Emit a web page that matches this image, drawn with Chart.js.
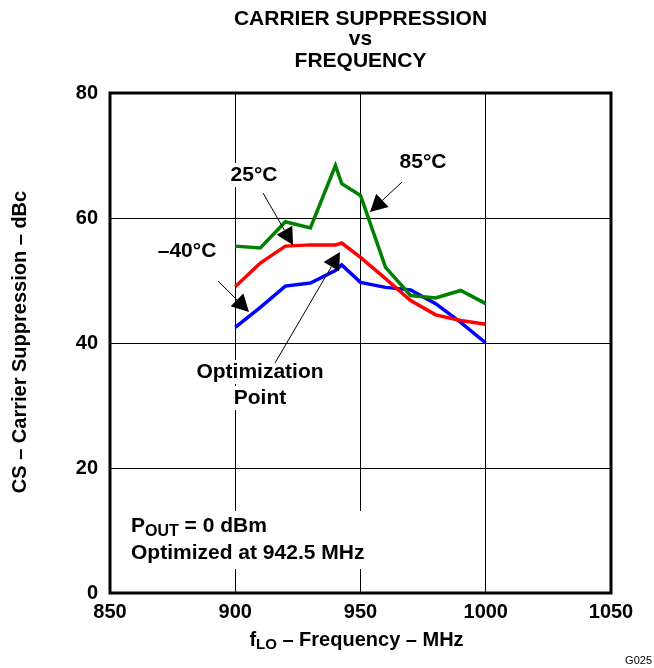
<!DOCTYPE html>
<html>
<head>
<meta charset="utf-8">
<script src="https://cdn.jsdelivr.net/npm/chart.js@4.4.1/dist/chart.umd.min.js"></script>
<style>
  html, body { margin: 0; padding: 0; background: #fff; }
  canvas { display: block; }
</style>
</head>
<body>
<canvas id="cs" width="654" height="668"></canvas>
<script>
// frequency points (MHz)
const freqs = [900, 910, 920, 930, 940, 942.5, 950, 960, 970, 980, 990, 1000];
// carrier suppression (dBc)
const cs85 = [55.5, 55.2, 59.4, 58.4, 68.4, 65.5, 63.6, 52.1, 47.6, 47.2, 48.4, 46.3];
const cs25 = [49.0, 52.8, 55.5, 55.7, 55.7, 56.0, 53.7, 50.3, 46.8, 44.5, 43.6, 43.0];
const csM40 = [42.5, 45.7, 49.1, 49.6, 51.6, 52.5, 49.7, 48.9, 48.5, 46.3, 43.3, 40.0];
const xTicks = [850, 900, 950, 1000, 1050];
const yTicks = [0, 20, 40, 60, 80];

const FONT = '"Liberation Sans", Arial, sans-serif';
const LBL = "bold 21px " + FONT;

const toPoints = (vals) => vals.map((v, i) => ({ x: freqs[i], y: v }));

function arrow(ctx, x1, y1, x2, y2) {
  const ang = Math.atan2(y2 - y1, x2 - x1);
  const len = 17, half = 9;
  const bx = x2 - len * Math.cos(ang), by = y2 - len * Math.sin(ang);
  ctx.beginPath();
  ctx.moveTo(x1, y1);
  ctx.lineTo(bx, by);
  ctx.lineWidth = 1;
  ctx.strokeStyle = "#000";
  ctx.stroke();
  ctx.beginPath();
  ctx.moveTo(x2, y2);
  ctx.lineTo(bx + half * Math.sin(ang), by - half * Math.cos(ang));
  ctx.lineTo(bx - half * Math.sin(ang), by + half * Math.cos(ang));
  ctx.closePath();
  ctx.fillStyle = "#000";
  ctx.fill();
}

function label(ctx, text, x, y) {
  ctx.font = LBL;
  ctx.textAlign = "center";
  ctx.textBaseline = "middle";
  const w = ctx.measureText(text).width;
  ctx.fillStyle = "#fff";
  ctx.fillRect(x - w / 2 - 3, y - 12, w + 6, 24);
  ctx.fillStyle = "#000";
  ctx.fillText(text, x, y);
}

const decorations = {
  id: "decorations",
  beforeDatasetsDraw(chart) {
    const ctx = chart.ctx;
    ctx.save();
    // labels sit on white boxes that hide the grid
    label(ctx, "25°C", 254, 175);
    label(ctx, "85°C", 423, 162);
    label(ctx, "–40°C", 187, 251);
    label(ctx, "Optimization", 260, 372);
    label(ctx, "Point", 260, 398);
    ctx.font = LBL;
    ctx.textAlign = "left";
    ctx.textBaseline = "middle";
    ctx.fillStyle = "#fff";
    ctx.fillRect(128, 511, 240, 58);
    ctx.fillStyle = "#000";
    ctx.fillText("P", 131, 526);
    let px = 131 + ctx.measureText("P").width;
    ctx.font = "bold 16px " + FONT;
    ctx.fillText("OUT", px, 532);
    px += ctx.measureText("OUT").width;
    ctx.font = LBL;
    ctx.fillText(" = 0 dBm", px, 526);
    ctx.fillText("Optimized at 942.5 MHz", 131, 553);
    ctx.restore();
  },
  afterDraw(chart) {
    const ctx = chart.ctx;
    const a = chart.chartArea;
    ctx.save();
    arrow(ctx, 263, 193, 293, 245);
    arrow(ctx, 402, 182, 370, 212);
    arrow(ctx, 218, 281, 249, 312);
    arrow(ctx, 275, 363, 340, 252);

    ctx.strokeStyle = "#000";
    ctx.lineWidth = 3;
    ctx.strokeRect(a.left, a.top, a.right - a.left, a.bottom - a.top);

    ctx.fillStyle = "#000";
    ctx.textAlign = "center";
    ctx.textBaseline = "middle";
    ctx.font = LBL;
    const cx = (a.left + a.right) / 2;
    ctx.fillText("CARRIER SUPPRESSION", cx, 19);
    ctx.fillText("vs", cx, 39);
    ctx.fillText("FREQUENCY", cx, 61);

    // x axis title with subscript
    const parts = [["f", 20, 0], ["LO", 15, 5], [" – Frequency – MHz", 20, 0]];
    let total = 0;
    parts.forEach((p) => { ctx.font = "bold " + p[1] + "px " + FONT; total += ctx.measureText(p[0]).width; });
    let x = cx - 4 - total / 2;
    ctx.textAlign = "left";
    parts.forEach((p) => {
      ctx.font = "bold " + p[1] + "px " + FONT;
      ctx.fillText(p[0], x, 640 + p[2]);
      x += ctx.measureText(p[0]).width;
    });

    ctx.translate(20, 342);
    ctx.rotate(-Math.PI / 2);
    ctx.textAlign = "center";
    ctx.font = "bold 20px " + FONT;
    ctx.fillText("CS – Carrier Suppression – dBc", 0, 0);
    ctx.restore();

    ctx.save();
    ctx.font = "11px " + FONT;
    ctx.fillStyle = "#000";
    ctx.textAlign = "right";
    ctx.textBaseline = "middle";
    ctx.fillText("G025", 652, 661);
    ctx.restore();
  }
};

new Chart(document.getElementById("cs"), {
  type: "line",
  data: {
    datasets: [
      { label: "85°C", data: toPoints(cs85), borderColor: "#008000", borderWidth: 3.5 },
      { label: "25°C", data: toPoints(cs25), borderColor: "#ff0000", borderWidth: 3.5 },
      { label: "–40°C", data: toPoints(csM40), borderColor: "#0000ff", borderWidth: 3.5 },
    ],
  },
  options: {
    responsive: false,
    animation: false,
    devicePixelRatio: 1,
    layout: { padding: { left: 0, top: 93, right: 43, bottom: 0 } },
    elements: { point: { radius: 0 }, line: { tension: 0 } },
    plugins: { legend: { display: false }, tooltip: { enabled: false }, title: { display: false } },
    scales: {
      x: {
        type: "linear",
        min: 850,
        max: 1050,
        afterBuildTicks: (s) => { s.ticks = xTicks.map((v) => ({ value: v })); },
        afterFit: (s) => { s.height = 75; },
        grid: { color: "#000", lineWidth: 1, drawTicks: false },
        border: { display: false },
        ticks: { color: "#000", padding: 7, callback: (v) => String(v), font: { family: FONT, size: 20, weight: "bold" } },
      },
      y: {
        min: 0,
        max: 80,
        afterBuildTicks: (s) => { s.ticks = yTicks.map((v) => ({ value: v })); },
        afterFit: (s) => { s.width = 110; },
        grid: { color: "#000", lineWidth: 1, drawTicks: false },
        border: { display: false },
        ticks: { color: "#000", padding: 12, font: { family: FONT, size: 20, weight: "bold" } },
      },
    },
  },
  plugins: [decorations],
});
</script>
</body>
</html>
